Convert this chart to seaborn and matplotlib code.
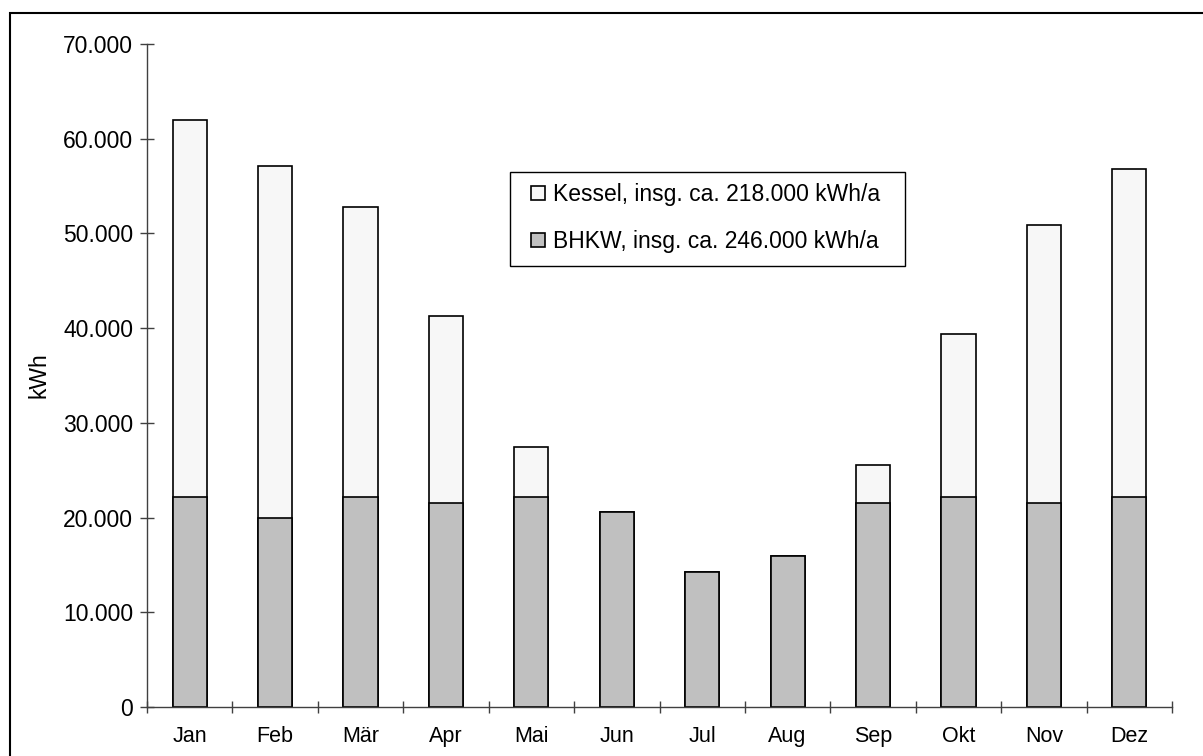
import pandas as pd
import matplotlib
matplotlib.use("Agg")
import matplotlib.pyplot as plt
import matplotlib.ticker as mticker
from matplotlib.patches import Rectangle
import seaborn as sns

# monthly heat supply
months = ['Jan', 'Feb', 'Mär', 'Apr', 'Mai', 'Jun', 'Jul', 'Aug', 'Sep', 'Okt', 'Nov', 'Dez']
bhkw = [22200, 20000, 22200, 21500, 22200, 20600, 14300, 15900, 21500, 22200, 21500, 22200]
kessel = [39800, 37100, 30600, 19800, 5300, 0, 0, 0, 4000, 17200, 29400, 34600]

label_kessel = "Kessel, insg. ca. 218.000 kWh/a"
label_bhkw = "BHKW, insg. ca. 246.000 kWh/a"

data = pd.DataFrame({'Monat': months, 'BHKW': bhkw, 'Kessel': kessel})
data['Gesamt'] = data['BHKW'] + data['Kessel']

sns.set_style("white")
plt.rcParams['font.family'] = ['Liberation Sans', 'DejaVu Sans']
plt.rcParams['text.color'] = 'black'
plt.rcParams['axes.labelcolor'] = 'black'
plt.rcParams['xtick.color'] = 'black'
plt.rcParams['ytick.color'] = 'black'

W, H = 1203, 756
fig = plt.figure(figsize=(W / 100, H / 100), dpi=100)
ax = fig.add_axes([147/W, 1-707/H, (1172-147)/W, (707-44)/H])

# Kessel sits on top of BHKW: draw the total first, then BHKW in front
sns.barplot(data=data, x='Monat', y='Gesamt', color='#f7f7f7', edgecolor='black',
            linewidth=1.2, width=0.4, saturation=1, label=label_kessel, ax=ax)
sns.barplot(data=data, x='Monat', y='BHKW', color='#c0c0c0', edgecolor='black',
            linewidth=1.2, width=0.4, saturation=1, label=label_bhkw, ax=ax)

ax.set_xlim(-0.5, 11.5)
ax.set_ylim(0, 70000)
ax.set_yticks(range(0, 70001, 10000))
ax.yaxis.set_major_formatter(mticker.FuncFormatter(lambda v, p: f"{int(v):,}".replace(",", ".")))

# ticks between the months, labels centred under the bars
ax.set_xticks([i - 0.5 for i in range(13)])
ax.set_xticklabels([])
ax.set_xticks(range(12), minor=True)
ax.set_xticklabels(months, minor=True)
ax.tick_params(axis='x', which='major', bottom=True, direction='inout', length=8.6,
               width=1, color='#404040')
ax.tick_params(axis='x', which='minor', bottom=True, length=0, pad=14, labelsize=15.5)
ax.tick_params(axis='y', left=True, direction='inout', length=10, width=1,
               color='#404040', pad=5, labelsize=16.5)

ax.set_xlabel("")
ax.set_ylabel("kWh", fontsize=16.5, labelpad=9)

for s in ['top', 'right']:
    ax.spines[s].set_visible(False)
for s in ['left', 'bottom']:
    ax.spines[s].set_color('#404040')
    ax.spines[s].set_linewidth(1)

# legend entries without their own frame, box drawn separately
leg = ax.legend(loc='upper left', bbox_to_anchor=(531/W, 1-183/H),
                bbox_transform=fig.transFigure, fontsize=16.5, frameon=False,
                handlelength=0.6, handleheight=0.6, handletextpad=0.35,
                labelspacing=1.05, borderpad=0, borderaxespad=0)
leg.set_zorder(6)
ax.add_patch(Rectangle((510/W, 1-266/H), (905-510)/W, (266-172)/H,
                       transform=fig.transFigure, facecolor='white',
                       edgecolor='black', linewidth=1, zorder=5, clip_on=False))

# outer frame of the picture
fig.patches.append(Rectangle((10/W, -0.1), 1.2, 1-13/H+0.1, transform=fig.transFigure,
                             fill=False, edgecolor='black', linewidth=1.5))

fig.savefig("out.png", dpi=100)
